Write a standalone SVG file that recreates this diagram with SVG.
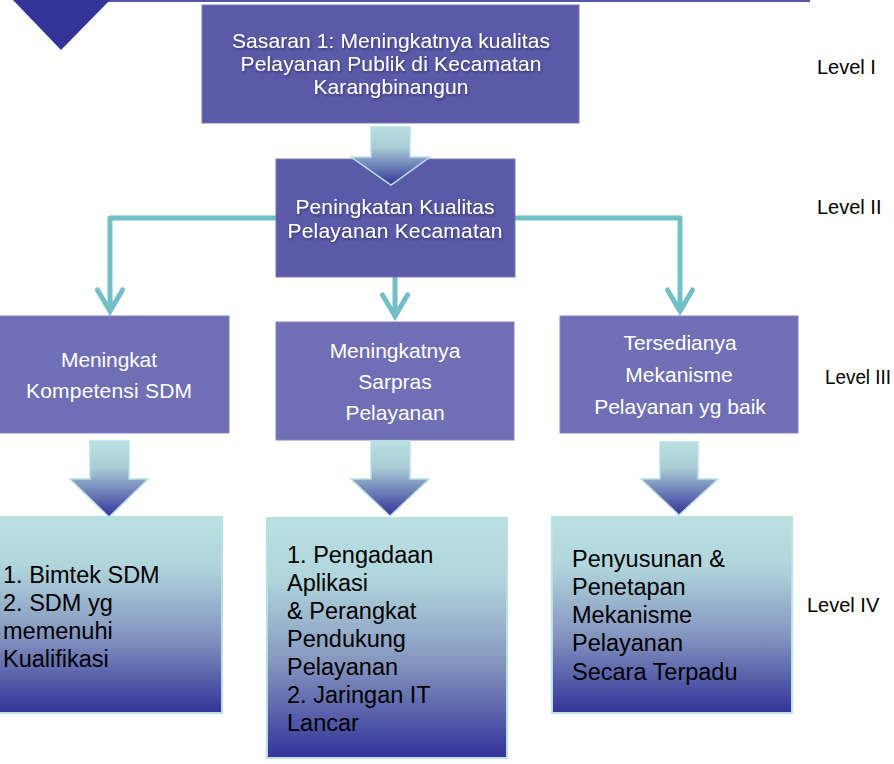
<svg xmlns="http://www.w3.org/2000/svg" width="894" height="764" viewBox="0 0 894 764">
<style>
  .box1 { fill: #5b5aa9; stroke: #7a79c0; stroke-width: 1; }
  .box3 { fill: #706fb5; stroke: #8584c4; stroke-width: 1; }
  .box4 { fill: url(#g4); stroke: #b9e1e3; stroke-width: 2; }
  .wt { font-family: "Liberation Sans", Arial, sans-serif; font-size: 21px; fill: #ffffff; text-anchor: middle; }
  .sh { filter: url(#shadow); }
  .bt { font-family: "Liberation Sans", Arial, sans-serif; font-size: 23.5px; fill: #000000; }
  .lvl { font-family: "Liberation Sans", Arial, sans-serif; font-size: 20px; fill: #000000; }
  .conn { fill: none; stroke: #72bfc5; stroke-width: 5; stroke-linejoin: round; }
  .big { fill: url(#ga); stroke: #b9e1e3; stroke-width: 1.5; }
</style>
<defs>
  <linearGradient id="g4" x1="0" y1="0" x2="0" y2="1">
    <stop offset="0" stop-color="#b9e0e2"/>
    <stop offset="0.25" stop-color="#b0d6dc"/>
    <stop offset="0.6" stop-color="#8596bf"/>
    <stop offset="1" stop-color="#333399"/>
  </linearGradient>
  <linearGradient id="ga" x1="0" y1="0" x2="0" y2="1">
    <stop offset="0" stop-color="#b9e0e2"/>
    <stop offset="0.35" stop-color="#a9ccd6"/>
    <stop offset="1" stop-color="#333399"/>
  </linearGradient>
  <filter id="shadow" x="-10%" y="-20%" width="120%" height="150%">
    <feDropShadow dx="1" dy="1.5" stdDeviation="1" flood-color="#1a1a4a" flood-opacity="0.6"/>
  </filter>
  <marker id="chev" markerUnits="userSpaceOnUse" orient="auto" refX="0" refY="0" markerWidth="40" markerHeight="40" viewBox="-30 -20 40 40" overflow="visible">
    <path d="M-21,-12.5 L0,0 L-21,12.5" fill="none" stroke="#72bfc5" stroke-width="5" stroke-linejoin="miter" stroke-linecap="round"/>
  </marker>
</defs>

<rect width="894" height="764" fill="#ffffff"/>

<!-- decorative top line and triangle -->
<line x1="108" y1="1" x2="810" y2="1" stroke="#5555aa" stroke-width="2"/>
<polygon points="13,0 110,0 61,50" fill="#333399"/>

<!-- Level labels -->
<text class="lvl" x="817" y="74">Level I</text>
<text class="lvl" x="817" y="214">Level II</text>
<text class="lvl" x="825" y="384" textLength="66" lengthAdjust="spacingAndGlyphs">Level III</text>
<text class="lvl" x="807" y="612">Level IV</text>

<!-- connectors -->
<g id="connectors">
  <path class="conn" d="M276,218 H110 V311" marker-end="url(#chev)"/>
  <path class="conn" d="M395,277 V316" marker-end="url(#chev)"/>
  <path class="conn" d="M515,218 H680 V311" marker-end="url(#chev)"/>
</g>

<g id="n-sasaran">
  <rect class="box1" x="202" y="5" width="377" height="118"/>
  <g class="sh">
    <text class="wt" x="391" y="48" textLength="318" lengthAdjust="spacing">Sasaran 1: Meningkatnya kualitas</text>
    <text class="wt" x="391" y="71" textLength="301" lengthAdjust="spacing">Pelayanan Publik di Kecamatan</text>
    <text class="wt" x="391" y="94" textLength="155" lengthAdjust="spacing">Karangbinangun</text>
  </g>
</g>

<g id="n-peningkatan">
  <rect class="box1" x="276" y="159" width="239" height="118"/>
  <g class="sh">
    <text class="wt" x="395" y="214" textLength="199" lengthAdjust="spacing">Peningkatan Kualitas</text>
    <text class="wt" x="395" y="238" textLength="215" lengthAdjust="spacing">Pelayanan Kecamatan</text>
  </g>
</g>

<!-- big arrow level I -> II -->
<g id="arrow-top">
  <path class="big" d="M371,127 H410 V157 H430 L391,185 L351,157 H371 Z"/>
</g>

<g id="n-kompetensi">
  <rect class="box3" x="-1" y="316" width="230" height="117"/>
  <text class="wt" x="109" y="367" textLength="96" lengthAdjust="spacing">Meningkat</text>
  <text class="wt" x="109" y="398" textLength="166" lengthAdjust="spacing">Kompetensi SDM</text>
</g>

<g id="n-sarpras">
  <rect class="box3" x="276" y="322" width="238" height="118"/>
  <text class="wt" x="395" y="358">Meningkatnya</text>
  <text class="wt" x="395" y="389">Sarpras</text>
  <text class="wt" x="395" y="420">Pelayanan</text>
</g>

<g id="n-mekanisme">
  <rect class="box3" x="560" y="316" width="238" height="117"/>
  <text class="wt" x="680" y="350">Tersedianya</text>
  <text class="wt" x="679" y="382">Mekanisme</text>
  <text class="wt" x="680" y="414">Pelayanan yg baik</text>
</g>

<!-- big arrows level III -> IV -->
<g id="arrow-a">
  <path class="big" d="M90,441 H129 V479 H148 L109,517 L70,479 H90 Z"/>
</g>
<g id="arrow-b">
  <path class="big" d="M371,441 H410 V479 H429 L390,516 L351,479 H371 Z"/>
</g>
<g id="arrow-c">
  <path class="big" d="M660,442 H698 V479 H718 L679,515 L641,479 H660 Z"/>
</g>

<g id="n-bimtek">
  <rect class="box4" x="-2" y="517" width="224" height="196"/>
  <text class="bt" x="3" y="583">1. Bimtek SDM</text>
  <text class="bt" x="3" y="611">2. SDM yg</text>
  <text class="bt" x="3" y="639">memenuhi</text>
  <text class="bt" x="3" y="667">Kualifikasi</text>
</g>

<g id="n-pengadaan">
  <rect class="box4" x="267" y="518" width="240" height="240"/>
  <text class="bt" x="287" y="563">1. Pengadaan</text>
  <text class="bt" x="287" y="591">Aplikasi</text>
  <text class="bt" x="287" y="619">&amp; Perangkat</text>
  <text class="bt" x="287" y="647">Pendukung</text>
  <text class="bt" x="287" y="675">Pelayanan</text>
  <text class="bt" x="287" y="703">2. Jaringan IT</text>
  <text class="bt" x="287" y="731">Lancar</text>
</g>

<g id="n-penyusunan">
  <rect class="box4" x="552" y="517" width="240" height="196"/>
  <text class="bt" x="572" y="567">Penyusunan &amp;</text>
  <text class="bt" x="572" y="595">Penetapan</text>
  <text class="bt" x="572" y="623">Mekanisme</text>
  <text class="bt" x="572" y="651">Pelayanan</text>
  <text class="bt" x="572" y="680">Secara Terpadu</text>
</g>
</svg>
